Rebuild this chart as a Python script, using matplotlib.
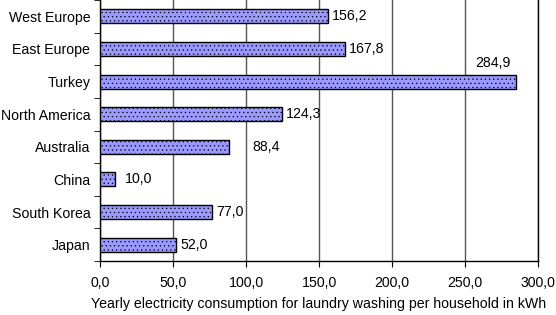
import matplotlib.pyplot as plt
import numpy as np

plt.rcParams['font.family'] = ['Liberation Sans', 'DejaVu Sans']
plt.rcParams['hatch.linewidth'] = 0.4
plt.rcParams['hatch.color'] = '#8888e0'

# Data
regions = ['West Europe', 'East Europe', 'Turkey', 'North America',
           'Australia', 'China', 'South Korea', 'Japan']
kwh = [156.2, 167.8, 284.9, 124.3, 88.4, 10.0, 77.0, 52.0]

fig = plt.figure(figsize=(5.56, 3.15), dpi=100)
ax = fig.add_axes([0.18, 0.1714, 0.7876, 0.8286])

y = np.arange(len(regions))
ax.barh(y, kwh, height=0.43, color='#9999ff', edgecolor='black',
        linewidth=1, hatch='....', zorder=3)

fs = 10.2
# label offsets (points) - a couple of labels sit further right in the original
offsets = {'Australia': 17, 'China': 7}
for v, yi, name in zip(kwh, y, regions):
    lbl = f'{v:.1f}'.replace('.', ',')
    if v > 250:
        ax.annotate(lbl, (v, yi), xytext=(-4, 8), textcoords='offset points',
                    ha='right', va='bottom', fontsize=fs)
    else:
        ax.annotate(lbl, (v, yi), xytext=(offsets.get(name, 3), 0),
                    textcoords='offset points', ha='left', va='center',
                    fontsize=fs)

ax.set_xlim(0, 300)
ax.set_ylim(len(regions) - 0.5, -0.5)
ticks = np.arange(0, 301, 50)
ax.set_xticks(ticks)
ax.set_xticklabels([f'{t:.1f}'.replace('.', ',') for t in ticks])
ax.set_yticks(y)
ax.set_yticklabels(regions)
ax.set_yticks(np.arange(-0.5, len(regions), 1), minor=True)
ax.tick_params(axis='y', which='major', length=0, pad=7, labelsize=fs)
ax.tick_params(axis='y', which='minor', length=4, direction='out')
ax.tick_params(axis='x', length=4, direction='out', labelsize=fs, pad=7)
ax.xaxis.grid(True, color='#555555', linewidth=1, zorder=0)
ax.set_axisbelow(True)
ax.spines['top'].set_visible(False)
for s in ['left', 'bottom', 'right']:
    ax.spines[s].set_linewidth(1)
ax.set_xlabel('Yearly electricity consumption for laundry washing per household in kWh',
              fontsize=fs, labelpad=5)

fig.savefig('out.png', dpi=100)
